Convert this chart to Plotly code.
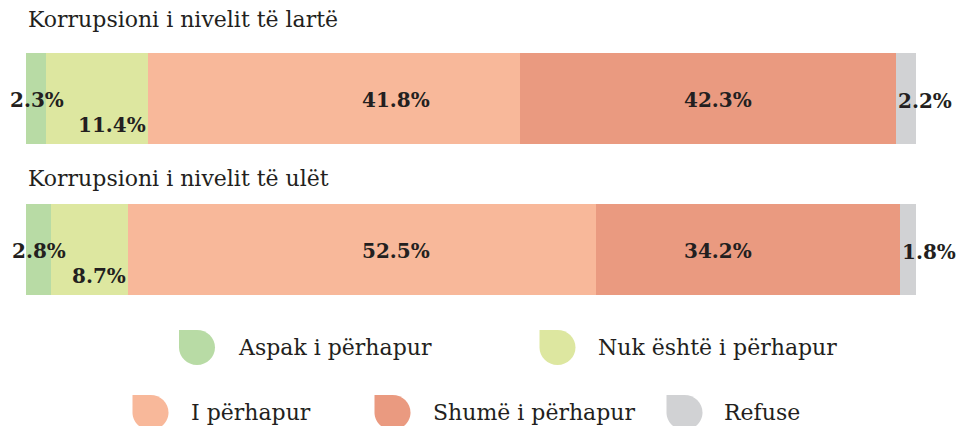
import plotly.graph_objects as go

# ---------------- data ----------------
bar_titles = ["Korrupsioni i nivelit të lartë", "Korrupsioni i nivelit të ulët"]
series_names = ["Aspak i përhapur", "Nuk është i përhapur", "I përhapur",
                "Shumë i përhapur", "Refuse"]
aspak = [2.3, 2.8]
nuk = [11.4, 8.7]
perhapur = [41.8, 52.5]
shume = [42.3, 34.2]
refuse = [2.2, 1.8]
series_values = [aspak, nuk, perhapur, shume, refuse]
colors = ["#b8dba5", "#dde7a0", "#f8b89a", "#ea9a80", "#d1d2d4"]

# ---------------- layout constants ----------------
W, H = 957, 426
ML, MR, MT, MB = 26, 41, 53, 131
PW = W - ML - MR
PH = H - MT - MB
FONT = "DejaVu Serif"
TXT = "#231f20"
BAR_W = 91 / 151
YPAD = BAR_W / 2


def px_x(px):
    return (px - ML) / PW


def px_y(py):
    return (H - MB - py) / PH


fig = go.Figure()
ypos = [0, 1]
for name, vals, col in zip(series_names, series_values, colors):
    fig.add_trace(go.Bar(
        x=vals, y=ypos, orientation="h", name=name, width=BAR_W,
        marker=dict(color=col, line=dict(width=0)),
        hoverinfo="skip", showlegend=False,
    ))

annotations = []
# bar titles
title_px_y = [20, 178]
for t, py in zip(bar_titles, title_px_y):
    annotations.append(dict(
        text=t, xref="paper", yref="paper", x=0, y=px_y(py),
        xanchor="left", yanchor="middle", showarrow=False, xshift=0,
        font=dict(family=FONT, size=22, color=TXT)))

# value labels
columns = {2: px_x(396) * 100, 3: px_x(718) * 100}
lab_font = dict(family=FONT, size=20, color=TXT, weight="bold")
for j in range(2):
    start = 0.0
    for i, vals in enumerate(series_values):
        v = vals[j]
        end = start + v
        txt = f"{v}%"
        a = dict(text=txt, xref="x", yref="y", y=ypos[j], showarrow=False,
                 yanchor="middle", font=lab_font)
        if i == 0:
            a.update(x=(start + end) / 2, xanchor="center", yshift=-1, xshift=1)
        elif i == 1:
            a.update(x=end, xanchor="right", yshift=-26)
        elif i in columns:
            a.update(x=columns[i], xanchor="center", yshift=-1)
        else:
            a.update(x=start, xanchor="left", yshift=-2)
        annotations.append(a)
        start = end

# custom legend
k = 0.5523
rx, ry = 18, 17.5
leaf = (f"M {-rx},{ry} L 0,{ry} "
        f"C {k*rx},{ry} {rx},{k*ry} {rx},0 "
        f"C {rx},{-k*ry} {k*rx},{-ry} 0,{-ry} "
        f"C {-k*rx},{-ry} {-rx},{-k*ry} {-rx},0 Z")
legend_marker_px = [(197, 347.5), (557.5, 347.5), (150.5, 412.5), (392.5, 412.5), (684.5, 412.5)]
legend_text_px = [236, 596, 189, 431, 722]
shapes = []
for name, col, (mx, my), tx in zip(series_names, colors, legend_marker_px, legend_text_px):
    shapes.append(dict(
        type="path", path=leaf, xref="paper", yref="paper",
        xsizemode="pixel", ysizemode="pixel",
        xanchor=px_x(mx), yanchor=px_y(my),
        fillcolor=col, line=dict(width=0), layer="above"))
    annotations.append(dict(
        text=name, xref="paper", yref="paper", x=px_x(tx), y=px_y(my),
        xanchor="left", yanchor="middle", showarrow=False,
        font=dict(family=FONT, size=22, color=TXT)))

fig.update_layout(
    width=W, height=H,
    margin=dict(l=ML, r=MR, t=MT, b=MB, pad=0),
    barmode="stack", bargap=0,
    plot_bgcolor="white", paper_bgcolor="white",
    xaxis=dict(range=[0, 100], visible=False, fixedrange=True),
    yaxis=dict(range=[1 + YPAD, -YPAD], visible=False, fixedrange=True),
    annotations=annotations, shapes=shapes,
    showlegend=False,
)

fig.write_html(
    "out.html",
    config={"displayModeBar": False},
    post_script="document.body.style.margin='0';document.body.style.overflow='hidden';",
)
